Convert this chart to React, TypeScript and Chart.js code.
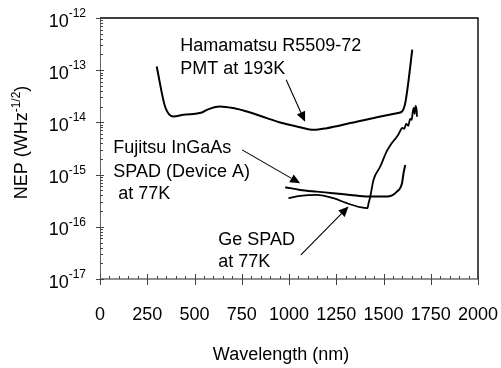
import React, { useEffect, useRef } from 'react';
import { Chart, registerables } from 'chart.js';

Chart.register(...registerables);

// ---- data ----
const hamamatsuWl = [300, 344, 388, 441, 539, 565, 635, 704, 777, 883, 953, 1059, 1130, 1200, 1324, 1465, 1571, 1598, 1615, 1633, 1652];
const hamamatsuNep = [1.18e-13, 2.02e-14, 1.3e-14, 1.4e-14, 1.55e-14, 1.74e-14, 2.02e-14, 1.88e-14, 1.62e-14, 1.21e-14, 9.95e-15, 8.1e-15, 7.2e-15, 7.76e-15, 9.7e-15, 1.26e-14, 1.5e-14, 1.62e-14, 2.34e-14, 6.56e-14, 2.47e-13];

const ingaasWl = [980, 1059, 1147, 1234, 1324, 1419, 1518, 1571, 1598, 1606, 1615];
const ingaasNep = [5.74e-16, 5.09e-16, 4.72e-16, 4.41e-16, 4.08e-16, 3.79e-16, 3.79e-16, 4.72e-16, 6.84e-16, 1.06e-15, 1.53e-15];

const geWl = [997, 1059, 1147, 1235, 1306, 1377, 1415, 1421, 1430, 1447, 1483, 1518, 1541, 1562, 1578, 1589, 1599, 1610, 1620, 1631, 1641, 1649, 1655, 1660, 1665, 1670, 1676, 1677];
const geNep = [3.53e-16, 3.91e-16, 4.08e-16, 3.53e-16, 2.83e-16, 2.37e-16, 2.27e-16, 2.83e-16, 3.79e-16, 7.92e-16, 1.43e-15, 2.85e-15, 3.88e-15, 4.84e-15, 5.78e-15, 6.9e-15, 7.87e-15, 7.53e-15, 9.4e-15, 8.6e-15, 1.17e-14, 1.12e-14, 1.6e-14, 1.9e-14, 1.46e-14, 2.08e-14, 1.6e-14, 1.28e-14];

const xTickValues = [0, 250, 500, 750, 1000, 1250, 1500, 1750, 2000];
const yTickExponents = [-17, -16, -15, -14, -13, -12];

const xTitle = 'Wavelength (nm)';
const yTitleMain = 'NEP (WHz';
const yTitleSup = '-1/2';
const yTitleEnd = ')';

const hamamatsuLabel = ['Hamamatsu R5509-72', 'PMT at 193K'];
const ingaasLabel = ['Fujitsu InGaAs', 'SPAD (Device A)', ' at 77K'];
const geLabel = ['Ge SPAD', 'at 77K'];

const FONT = '"Liberation Sans", Arial, Helvetica, sans-serif';

function pts(xs: number[], ys: number[]) {
  return xs.map((x, i) => ({ x, y: ys[i] }));
}

const decorPlugin = {
  id: 'decor',
  afterDraw(chart: any) {
    const { ctx, chartArea: a, scales } = chart;
    const xs = scales.x;
    const ys = scales.y;
    const X = (v: number) => xs.getPixelForValue(v);
    const Y = (v: number) => ys.getPixelForValue(v);
    ctx.save();

    // frame: top, right, bottom
    ctx.strokeStyle = '#000';
    ctx.lineWidth = 1.4;
    ctx.beginPath();
    ctx.moveTo(a.left, a.top);
    ctx.lineTo(a.right, a.top);
    ctx.lineTo(a.right, a.bottom);
    ctx.stroke();
    ctx.strokeStyle = '#222';
    ctx.lineWidth = 1.2;
    ctx.beginPath();
    ctx.moveTo(a.left, a.bottom);
    ctx.lineTo(a.right, a.bottom);
    ctx.stroke();
    // left axis (lighter)
    ctx.strokeStyle = '#666';
    ctx.lineWidth = 1;
    ctx.beginPath();
    ctx.moveTo(a.left + 0.5, a.top);
    ctx.lineTo(a.left + 0.5, a.bottom);
    ctx.stroke();

    // y ticks
    ctx.strokeStyle = '#444';
    ctx.lineWidth = 1;
    for (let i = 0; i < yTickExponents.length; i++) {
      const e = yTickExponents[i];
      const py = Math.round(Y(Math.pow(10, e))) + 0.5;
      ctx.beginPath();
      ctx.moveTo(a.left - 4, py);
      ctx.lineTo(a.left + 4, py);
      ctx.stroke();
      if (i < yTickExponents.length - 1) {
        for (let m = 2; m <= 9; m++) {
          const my = Math.round(Y(m * Math.pow(10, e))) + 0.5;
          ctx.beginPath();
          ctx.moveTo(a.left, my);
          ctx.lineTo(a.left + 3, my);
          ctx.stroke();
        }
      }
    }
    // x ticks
    for (let v = xTickValues[0]; v <= xTickValues[xTickValues.length - 1]; v += 50) {
      const px = Math.round(X(v)) + 0.5;
      ctx.beginPath();
      ctx.moveTo(px, a.bottom);
      ctx.lineTo(px, a.bottom - 3);
      ctx.stroke();
    }
    for (const v of xTickValues) {
      const px = Math.round(X(v)) + 0.5;
      ctx.beginPath();
      ctx.moveTo(px, a.bottom - 5);
      ctx.lineTo(px, a.bottom + 6);
      ctx.stroke();
    }

    ctx.fillStyle = '#000';
    // x tick labels
    ctx.font = `18px ${FONT}`;
    ctx.textAlign = 'center';
    ctx.textBaseline = 'alphabetic';
    for (const v of xTickValues) {
      ctx.fillText(String(v), X(v), a.bottom + 41);
    }
    // y tick labels 10^e
    for (const e of yTickExponents) {
      const py = Y(Math.pow(10, e));
      const supRight = a.left - 14;
      ctx.font = `12px ${FONT}`;
      ctx.textAlign = 'right';
      const sup = String(e);
      const supW = ctx.measureText(sup).width;
      ctx.fillText(sup, supRight, py - 1);
      ctx.font = `18px ${FONT}`;
      ctx.fillText('10', supRight - supW, py + 8.5);
    }

    // x title
    ctx.font = `18px ${FONT}`;
    ctx.textAlign = 'center';
    ctx.fillText(xTitle, (a.left + a.right) / 2 - 8, a.bottom + 81);

    // y title (rotated)
    ctx.save();
    ctx.translate(27, (a.top + a.bottom) / 2 - 6);
    ctx.rotate(-Math.PI / 2);
    ctx.font = `18px ${FONT}`;
    const w1 = ctx.measureText(yTitleMain).width;
    ctx.font = `12px ${FONT}`;
    const w2 = ctx.measureText(yTitleSup).width;
    ctx.font = `18px ${FONT}`;
    const w3 = ctx.measureText(yTitleEnd).width;
    let sx = -(w1 + w2 + w3) / 2;
    ctx.textAlign = 'left';
    ctx.fillText(yTitleMain, sx, 0);
    sx += w1;
    ctx.font = `12px ${FONT}`;
    ctx.fillText(yTitleSup, sx, -7);
    sx += w2;
    ctx.font = `18px ${FONT}`;
    ctx.fillText(yTitleEnd, sx, 0);
    ctx.restore();

    // annotations (positioned in data coordinates)
    const L = (e: number) => Math.pow(10, e);
    ctx.font = `18px ${FONT}`;
    ctx.textAlign = 'left';
    ctx.fillText(hamamatsuLabel[0], X(424), Y(L(-12.641)));
    ctx.fillText(hamamatsuLabel[1], X(424), Y(L(-13.068)));
    ctx.fillText(ingaasLabel[0], X(70), Y(L(-14.589)));
    ctx.fillText(ingaasLabel[1], X(70), Y(L(-15.038)));
    ctx.fillText(ingaasLabel[2], X(70), Y(L(-15.466)));
    ctx.fillText(geLabel[0], X(626), Y(L(-16.348)));
    ctx.fillText(geLabel[1], X(626), Y(L(-16.776)));

    const arrow = (x0: number, e0: number, x1: number, e1: number) => {
      const ax = X(x0), ay = Y(L(e0)), bx = X(x1), by = Y(L(e1));
      const ang = Math.atan2(by - ay, bx - ax);
      const hl = 10, hw = 4.5;
      const baseX = bx - hl * Math.cos(ang), baseY = by - hl * Math.sin(ang);
      ctx.strokeStyle = '#000';
      ctx.lineWidth = 1.1;
      ctx.beginPath();
      ctx.moveTo(ax, ay);
      ctx.lineTo(baseX, baseY);
      ctx.stroke();
      ctx.beginPath();
      ctx.moveTo(bx, by);
      ctx.lineTo(baseX + hw * Math.sin(ang), baseY - hw * Math.cos(ang));
      ctx.lineTo(baseX - hw * Math.sin(ang), baseY + hw * Math.cos(ang));
      ctx.closePath();
      ctx.fill();
    };
    arrow(985, -13.183, 1085, -13.989);
    arrow(752, -14.526, 1059, -15.168);
    arrow(1063, -16.54, 1315, -15.613);

    ctx.restore();
  },
};

export default function App() {
  const ref = useRef<HTMLCanvasElement | null>(null);
  useEffect(() => {
    document.body.style.margin = '0';
    const canvas = ref.current;
    if (!canvas) return;
    const lineStyle = {
      borderColor: '#000',
      backgroundColor: '#000',
      borderWidth: 2,
      pointRadius: 0,
      fill: false,
      cubicInterpolationMode: 'monotone' as const,
    };
    const chart = new Chart(canvas, {
      type: 'line',
      data: {
        datasets: [
          { label: 'Hamamatsu R5509-72', data: pts(hamamatsuWl, hamamatsuNep), ...lineStyle },
          { label: 'Fujitsu InGaAs', data: pts(ingaasWl, ingaasNep), ...lineStyle },
          { label: 'Ge SPAD', data: pts(geWl, geNep), ...lineStyle, borderWidth: 1.8 },
        ],
      },
      options: {
        animation: false,
        responsive: false,
        devicePixelRatio: 1,
        layout: { padding: { left: 100, top: 18, right: 23, bottom: 89 } },
        plugins: { legend: { display: false }, tooltip: { enabled: false } },
        scales: {
          x: {
            type: 'linear',
            min: 0,
            max: 2000,
            ticks: { display: false, stepSize: 250 },
            grid: { display: false, drawTicks: false },
            border: { display: false },
            title: { display: false },
          },
          y: {
            type: 'logarithmic',
            min: 1e-17,
            max: 1e-12,
            ticks: { display: false },
            grid: { display: false, drawTicks: false },
            border: { display: false },
            title: { display: false },
          },
        },
      },
      plugins: [decorPlugin],
    });
    return () => chart.destroy();
  }, []);
  return (
    <div style={{ position: 'fixed', left: 0, top: 0, width: 501, height: 368, background: '#fff' }}>
      <canvas ref={ref} width={501} height={368} style={{ width: 501, height: 368, display: 'block' }} />
    </div>
  );
}
